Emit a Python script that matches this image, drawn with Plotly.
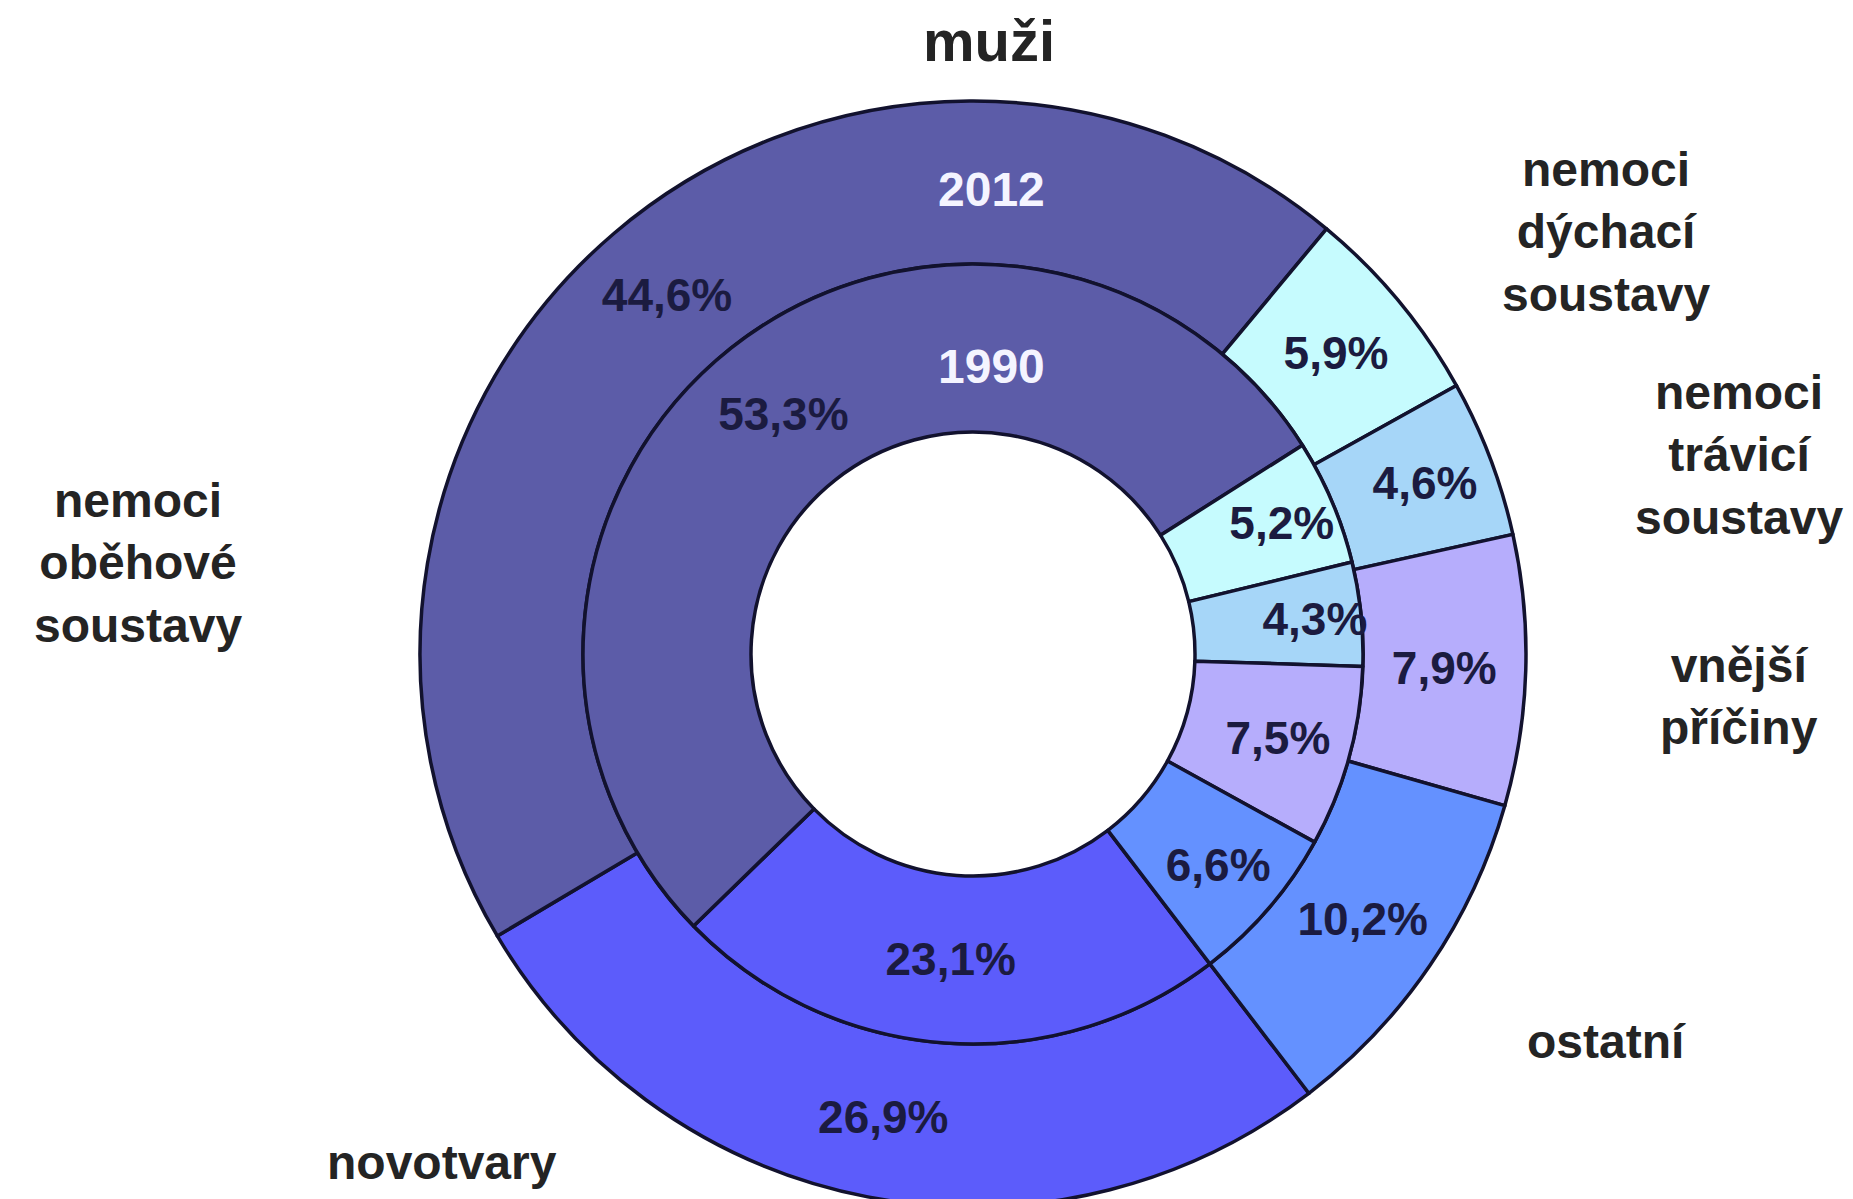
import plotly.graph_objects as go

# kategorie (ve směru hodinových ručiček od hranice ostatní/novotvary)
categories = ["novotvary", "nemoci oběhové soustavy", "nemoci dýchací soustavy",
              "nemoci trávicí soustavy", "vnější příčiny", "ostatní"]
values_2012 = [26.9, 44.6, 5.9, 4.6, 7.9, 10.2]
values_1990 = [23.1, 53.3, 5.2, 4.3, 7.5, 6.6]
colors = ["#5c5cfb", "#5c5ca8", "#c6fbfe", "#a6d6f8", "#b6adfc", "#6491ff"]

outer_labels = ["nemoci<br>oběhové<br>soustavy", "novotvary", "ostatní",
                "vnější<br>příčiny", "nemoci<br>trávicí<br>soustavy", "nemoci<br>dýchací<br>soustavy"]


def pct(vals):
    return ["<b>" + f"{v:.1f}%".replace(".", ",") + "</b>" for v in vals]


W, H = 1853, 1199
cx, cy = 965, 553          # střed (px, od spodního okraje)
r_out, r_mid, r_hole = 553, 390, 222

line = dict(color="#12122e", width=3.5)
txt_font = dict(family="Liberation Sans, Arial, sans-serif", size=46, color="#1b1b40")

fig = go.Figure()
fig.add_trace(go.Pie(
    labels=categories, values=values_2012, text=pct(values_2012),
    textinfo="text", textposition="inside", insidetextorientation="horizontal",
    sort=False, direction="clockwise", rotation=142.6,
    hole=r_mid / r_out, marker=dict(colors=colors, line=line),
    textfont=txt_font, hoverinfo="label+value", showlegend=False,
    domain=dict(x=[(cx - r_out) / W, (cx + r_out) / W], y=[(cy - r_out) / H, (cy + r_out) / H]),
))
fig.add_trace(go.Pie(
    labels=categories, values=values_1990, text=pct(values_1990),
    textinfo="text", textposition="inside", insidetextorientation="horizontal",
    sort=False, direction="clockwise", rotation=142.6,
    hole=r_hole / r_mid, marker=dict(colors=colors, line=line),
    textfont=txt_font, hoverinfo="label+value", showlegend=False,
    domain=dict(x=[(cx - r_mid) / W, (cx + r_mid) / W], y=[(cy - r_mid) / H, (cy + r_mid) / H]),
))

lbl_font = dict(family="Liberation Sans, Arial, sans-serif", size=48, color="#242424")
annotations = [
    dict(text="<b>muži</b>", x=0.5294, y=0.973, font=dict(lbl_font, size=58)),
    dict(text="<b>2012</b>", x=0.5305, y=0.8486, font=dict(lbl_font, size=48, color="#f4f4ff")),
    dict(text="<b>1990</b>", x=0.5305, y=0.7012, font=dict(lbl_font, size=48, color="#f4f4ff")),
]
label_pos = [(0.0702, 0.537), (0.2342, 0.037), (0.8624, 0.138),
             (0.9342, 0.426), (0.9342, 0.627), (0.8624, 0.813)]
for t, (x, y) in zip(outer_labels, label_pos):
    annotations.append(dict(text="<b>" + t + "</b>", x=x, y=y, font=lbl_font))

for a in annotations:
    a.update(xref="paper", yref="paper", showarrow=False, xanchor="center", yanchor="middle")

fig.update_layout(
    width=W, height=H,
    margin=dict(l=0, r=0, t=0, b=0),
    paper_bgcolor="white", plot_bgcolor="white",
    uniformtext=dict(minsize=46, mode="show"),
    annotations=annotations,
)

fig.write_html("out.html")
